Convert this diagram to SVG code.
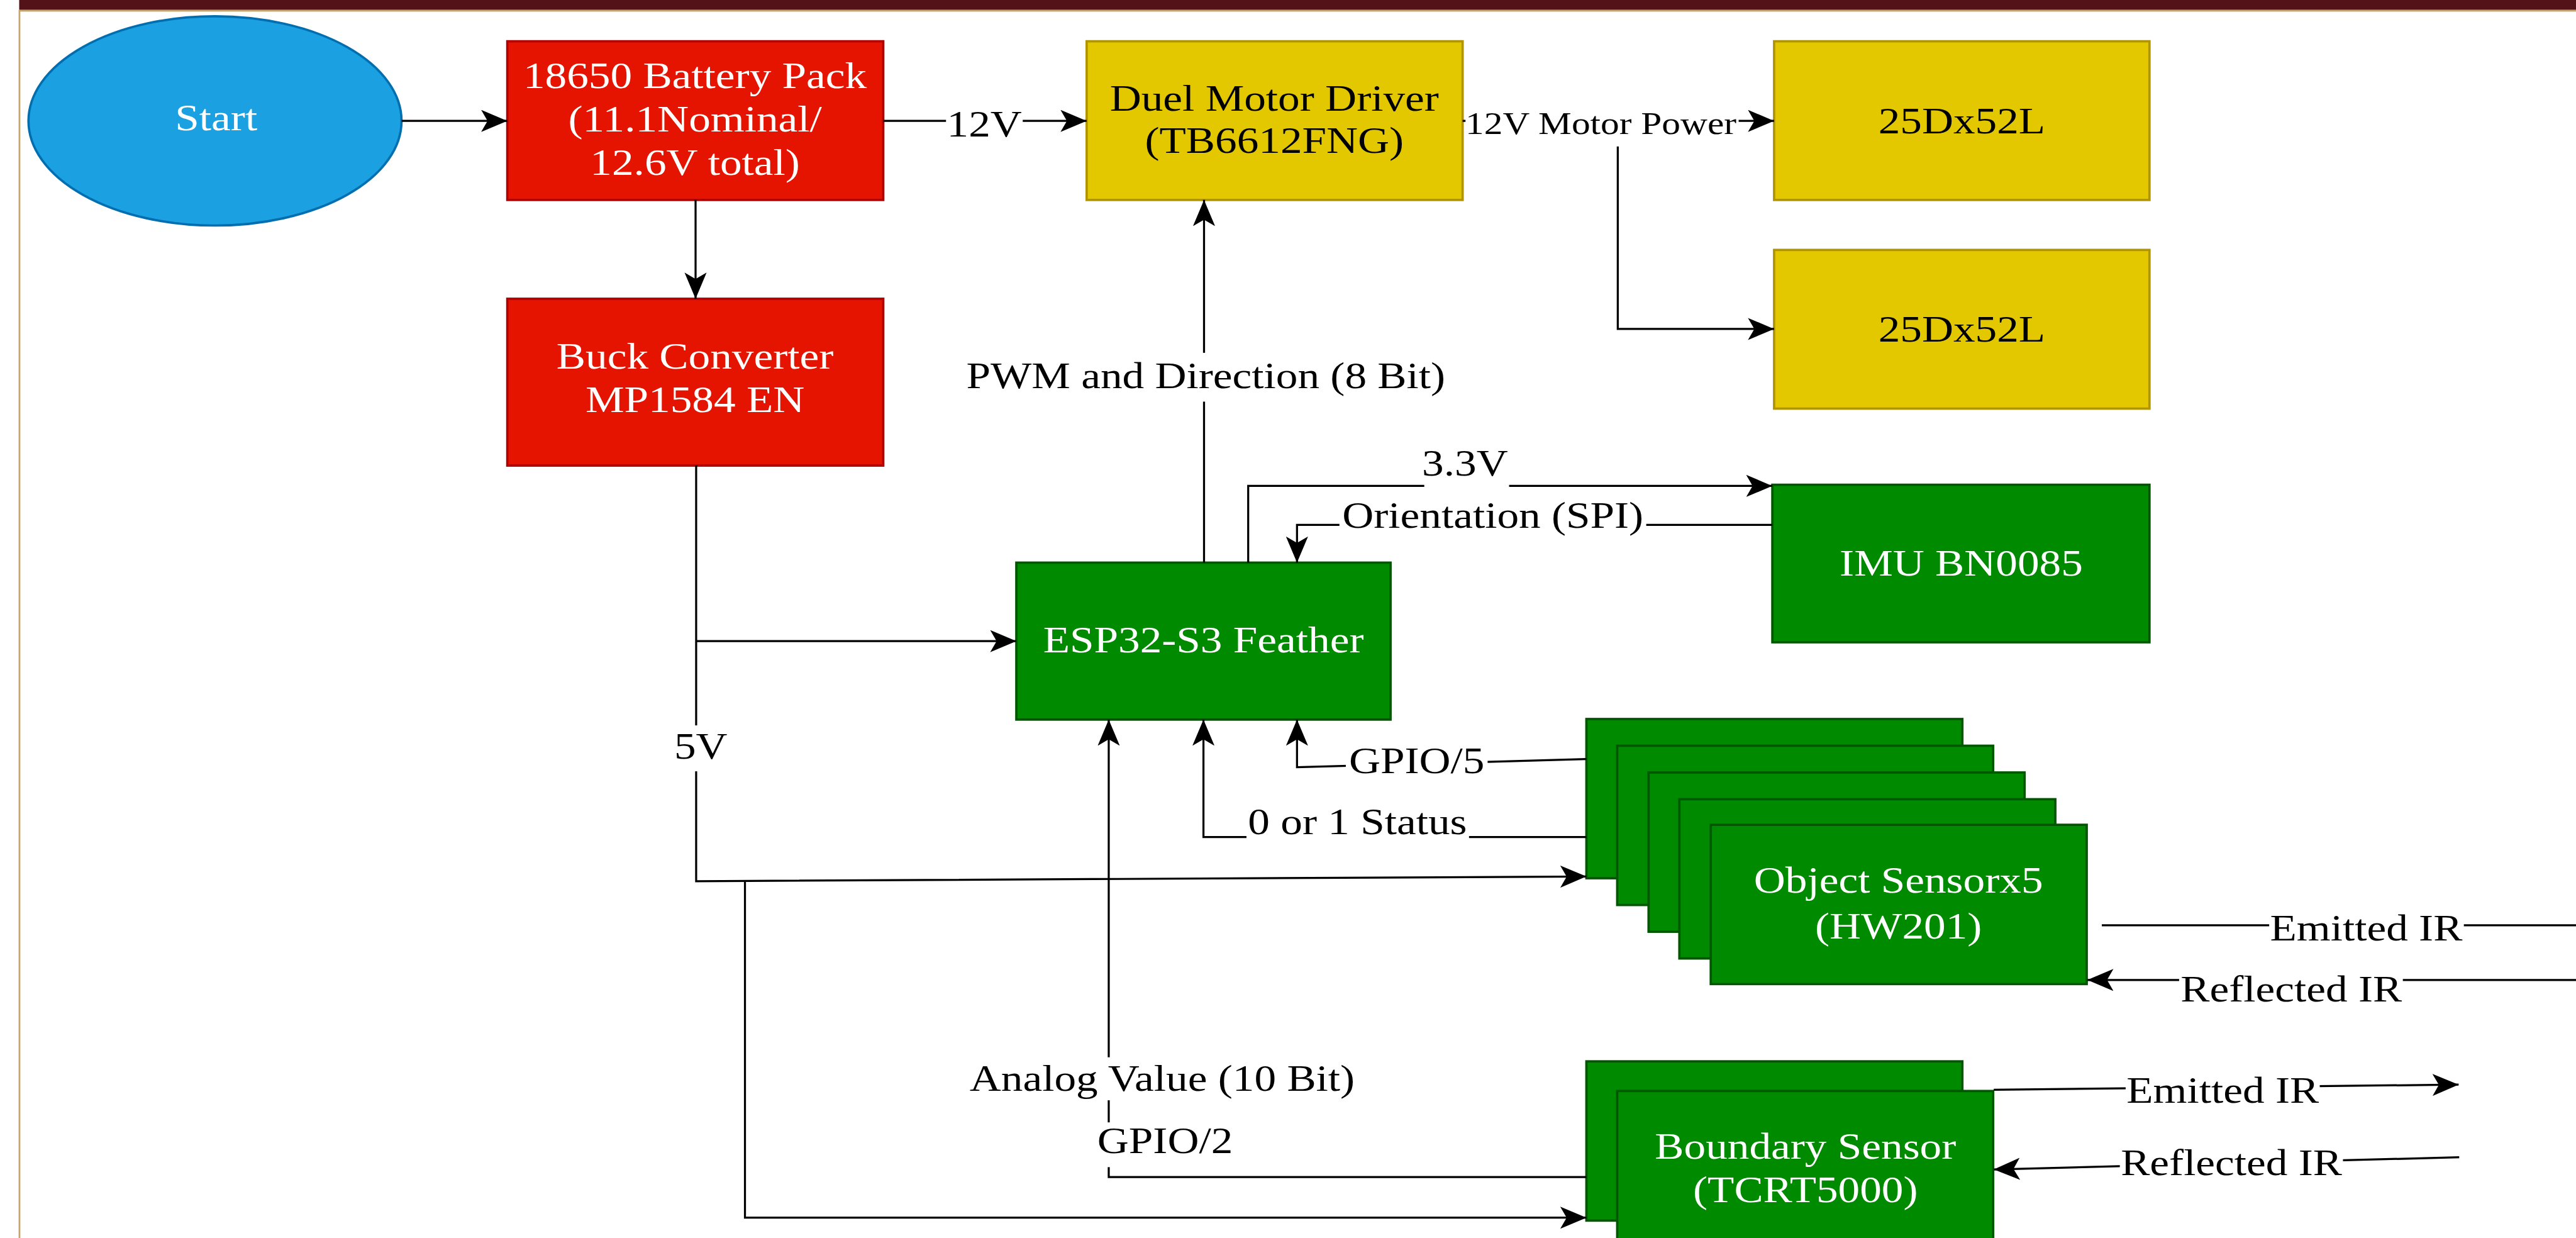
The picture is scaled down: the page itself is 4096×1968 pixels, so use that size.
<svg xmlns="http://www.w3.org/2000/svg" width="4096" height="1968" viewBox="0 0 4096 1968">
<style>
.ln{fill:none;stroke:#000;stroke-width:3.5}
.ar{marker-end:url(#ah)}
.t{font-family:"Liberation Serif","Times New Roman",serif;font-size:63px;text-anchor:middle}
.sm{font-size:54px}
.w{fill:#fff}
.k{fill:#000}
.bg{fill:#fff}
.red{fill:#e51400;stroke:#b20000;stroke-width:4}
.yel{fill:#e3c800;stroke:#b09500;stroke-width:4}
.grn{fill:#008a00;stroke:#005700;stroke-width:4}
.blu{fill:#1ba1e2;stroke:#006eaf;stroke-width:4}
</style>
<defs>
<marker id="ah" markerUnits="userSpaceOnUse" viewBox="0 0 45 38" markerWidth="45" markerHeight="38" refX="45" refY="19" orient="auto">
<path d="M0,0 L45,19 L0,38 L11,19 Z" fill="#000"/>
</marker>
</defs>
<rect x="0" y="0" width="4096" height="1968" fill="#fff"/>
<g transform="scale(0.92398)">
<g id="frame">
<rect x="33" y="0" width="4400" height="17" fill="#521217"/>
<rect x="33" y="17" width="4400" height="3" fill="#c4a56a"/>
<rect x="32" y="17" width="3" height="2113" fill="#c4a56a"/>
</g>
<g id="start">
<ellipse class="blu" cx="370" cy="208" rx="321" ry="180"/>
<text class="t w" transform="translate(372 0) scale(1.19 1)" y="224">Start</text>
</g>
<g id="battery">
<rect class="red" x="873" y="71" width="647" height="273"/>
<text class="t w" transform="translate(1196 0) scale(1.19 1)"><tspan x="0" y="151">18650 Battery Pack</tspan><tspan x="0" y="226">(11.1Nominal/</tspan><tspan x="0" y="301">12.6V total)</tspan></text>
</g>
<g id="buck">
<rect class="red" x="873" y="514" width="647" height="287"/>
<text class="t w" transform="translate(1196 0) scale(1.19 1)"><tspan x="0" y="634">Buck Converter</tspan><tspan x="0" y="709">MP1584 EN</tspan></text>
</g>
<g id="driver">
<rect class="yel" x="1870" y="71" width="647" height="273"/>
<text class="t k" transform="translate(2193 0) scale(1.19 1)"><tspan x="0" y="191">Duel Motor Driver</tspan><tspan x="0" y="263">(TB6612FNG)</tspan></text>
</g>
<g id="motor1">
<rect class="yel" x="3053" y="71" width="646" height="273"/>
<text class="t k" transform="translate(3376 0) scale(1.19 1)" y="229">25Dx52L</text>
</g>
<g id="motor2">
<rect class="yel" x="3053" y="430" width="646" height="273"/>
<text class="t k" transform="translate(3376 0) scale(1.19 1)" y="588">25Dx52L</text>
</g>
<g id="esp32">
<rect class="grn" x="1749" y="968" width="644" height="270"/>
<text class="t w" transform="translate(2071 0) scale(1.19 1)" y="1122">ESP32-S3 Feather</text>
</g>
<g id="imu">
<rect class="grn" x="3050" y="834" width="649" height="271"/>
<text class="t w" transform="translate(3375 0) scale(1.19 1)" y="990">IMU BN0085</text>
</g>
<g id="object-sensors">
<rect class="grn" x="2730" y="1237" width="647" height="274"/>
<rect class="grn" x="2783" y="1283" width="647" height="274"/>
<rect class="grn" x="2837" y="1329" width="647" height="274"/>
<rect class="grn" x="2890" y="1375" width="647" height="274"/>
<rect class="grn" x="2944" y="1419" width="647" height="274"/>
<text class="t w" transform="translate(3267 0) scale(1.19 1)"><tspan x="0" y="1536">Object Sensorx5</tspan><tspan x="0" y="1615">(HW201)</tspan></text>
</g>
<g id="boundary-sensor">
<rect class="grn" x="2730" y="1826" width="647" height="274"/>
<rect class="grn" x="2783" y="1877" width="647" height="274"/>
<text class="t w" transform="translate(3107 0) scale(1.19 1)"><tspan x="0" y="1994">Boundary Sensor</tspan><tspan x="0" y="2068">(TCRT5000)</tspan></text>
</g>
<g id="connectors">
<path class="ln ar" d="M691,208 H873"/>
<path class="ln ar" d="M1520,208 H1870"/>
<path class="ln ar" d="M1197,344 V514"/>
<path class="ln ar" d="M2517,208 H3053"/>
<path class="ln ar" d="M2784,208 V566 H3053"/>
<path class="ln ar" d="M2072,968 V344"/>
<path class="ln ar" d="M2148,968 V836 H3050"/>
<path class="ln ar" d="M3050,903 H2232 V968"/>
<path class="ln ar" d="M1198,801 V1516 L2730,1508"/>
<path class="ln ar" d="M1198,1103 H1749"/>
<path class="ln ar" d="M1282,1514 V2095 H2730"/>
<path class="ln ar" d="M2730,1306 L2232,1320 V1238"/>
<path class="ln ar" d="M2730,1440 H2071 V1238"/>
<path class="ln ar" d="M2730,2025 H1908 V1238"/>
<path class="ln" d="M3617,1592 H4440"/>
<path class="ln ar" d="M4440,1686 H3592"/>
<path class="ln ar" d="M3431,1875 L4231,1866"/>
<path class="ln ar" d="M4232,1991 L3431,2012"/>
<rect class="bg" x="1628" y="188" width="132" height="56"/>
<text class="t k" transform="translate(1694 0) scale(1.19 1)" y="235">12V</text>
<rect class="bg" x="2522" y="186" width="470" height="66"/>
<text class="t k sm" transform="translate(2755 0) scale(1.19 1)" y="230">12V Motor Power</text>
<rect class="bg" x="1660" y="607" width="830" height="84"/>
<text class="t k" transform="translate(2075 0) scale(1.19 1)" y="668">PWM and Direction (8 Bit)</text>
<rect class="bg" x="2451" y="770" width="146" height="80"/>
<text class="t k" transform="translate(2521 0) scale(1.19 1)" y="818">3.3V</text>
<rect class="bg" x="2305" y="860" width="528" height="65"/>
<text class="t k" transform="translate(2569 0) scale(1.19 1)" y="908">Orientation (SPI)</text>
<rect class="bg" x="1160" y="1248" width="92" height="79"/>
<text class="t k" transform="translate(1206 0) scale(1.19 1)" y="1305">5V</text>
<rect class="bg" x="2316" y="1285" width="244" height="60"/>
<text class="t k" transform="translate(2438 0) scale(1.19 1)" y="1330">GPIO/5</text>
<rect class="bg" x="2145" y="1395" width="383" height="60"/>
<text class="t k" transform="translate(2336 0) scale(1.19 1)" y="1435">0 or 1 Status</text>
<rect class="bg" x="1660" y="1819" width="680" height="74"/>
<text class="t k" transform="translate(2000 0) scale(1.19 1)" y="1877">Analog Value (10 Bit)</text>
<rect class="bg" x="1885" y="1931" width="240" height="77"/>
<text class="t k" transform="translate(2005 0) scale(1.19 1)" y="1984">GPIO/2</text>
<rect class="bg" x="3905" y="1572" width="335" height="58"/>
<text class="t k" transform="translate(4072 0) scale(1.19 1)" y="1618">Emitted IR</text>
<rect class="bg" x="3750" y="1675" width="385" height="60"/>
<text class="t k" transform="translate(3943 0) scale(1.19 1)" y="1723">Reflected IR</text>
<rect class="bg" x="3658" y="1850" width="334" height="60"/>
<text class="t k" transform="translate(3825 0) scale(1.19 1)" y="1897">Emitted IR</text>
<rect class="bg" x="3648" y="1975" width="384" height="60"/>
<text class="t k" transform="translate(3840 0) scale(1.19 1)" y="2022">Reflected IR</text>
</g>
</g>
</svg>
